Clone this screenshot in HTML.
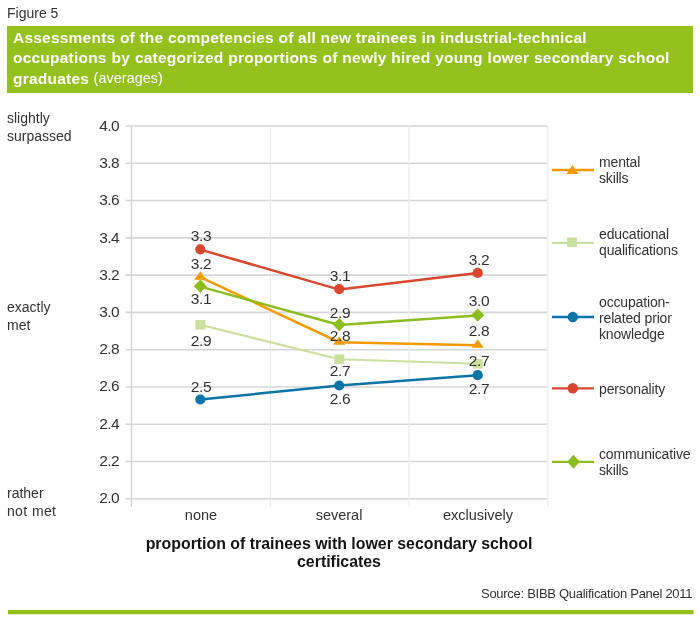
<!DOCTYPE html>
<html><head><meta charset="utf-8">
<style>
html,body{margin:0;padding:0;background:#fff;}
.t,.yl,.dl,.lg,.xl,.title,.xt{will-change:transform;}
body{width:700px;height:622px;position:relative;overflow:hidden;font-family:"Liberation Sans",sans-serif;color:#333;}
.t{position:absolute;white-space:nowrap;line-height:1;}
.r{font-size:14px;}
.banner{position:absolute;left:7px;top:26px;width:686px;height:67px;background:#95c11f;}
.title{position:absolute;left:12.5px;color:#fff;font-weight:bold;font-size:15.5px;letter-spacing:0.22px;line-height:20px;white-space:nowrap;}
.title span{font-weight:normal;}
svg{position:absolute;left:0;top:0;}
.yl{position:absolute;width:40px;text-align:right;font-size:15.5px;letter-spacing:-0.6px;line-height:1;}
.dl{position:absolute;width:40px;text-align:center;font-size:15.5px;letter-spacing:-0.4px;line-height:1;}
.xl{position:absolute;width:100px;text-align:center;font-size:14.5px;line-height:1;white-space:nowrap;}
.lg{position:absolute;left:599px;font-size:14px;letter-spacing:-0.15px;line-height:16px;white-space:nowrap;}
</style></head>
<body>
<div class="t r" style="left:7px;top:6px;font-size:14px;">Figure 5</div>
<div class="banner"></div>
<div class="title" style="top:27.6px;">Assessments of the competencies of all new trainees in industrial-technical</div>
<div class="title" style="top:48.4px;word-spacing:0.3px;">occupations by categorized proportions of newly hired young lower secondary school</div>
<div class="title" style="top:68.6px;">graduates <span style="font-size:14.3px;letter-spacing:0.1px;position:relative;top:-0.6px;">(averages)</span></div>

<svg width="700" height="622" viewBox="0 0 700 622">
  <!-- grid -->
  <g stroke="#d6d6d6" stroke-width="1.6">
    <line x1="125.5" y1="126.00" x2="547.5" y2="126.00"/>
    <line x1="125.5" y1="163.28" x2="547.5" y2="163.28"/>
    <line x1="125.5" y1="200.56" x2="547.5" y2="200.56"/>
    <line x1="125.5" y1="237.84" x2="547.5" y2="237.84"/>
    <line x1="125.5" y1="275.12" x2="547.5" y2="275.12"/>
    <line x1="125.5" y1="312.40" x2="547.5" y2="312.40"/>
    <line x1="125.5" y1="349.68" x2="547.5" y2="349.68"/>
    <line x1="125.5" y1="386.96" x2="547.5" y2="386.96"/>
    <line x1="125.5" y1="424.24" x2="547.5" y2="424.24"/>
    <line x1="125.5" y1="461.52" x2="547.5" y2="461.52"/>
    <line x1="125.5" y1="498.80" x2="547.5" y2="498.80"/>
  </g>
  <g stroke="#ebebeb" stroke-width="1.2">
    <line x1="270.4" y1="126" x2="270.4" y2="507"/>
    <line x1="409" y1="126" x2="409" y2="507"/>
    <line x1="547.8" y1="126" x2="547.8" y2="507"/>
  </g>
  <line x1="131.5" y1="126" x2="131.5" y2="507" stroke="#d4d4d4" stroke-width="1.4"/>

  <!-- series: educational -->
<polyline points="200.3,324.8 339.2,359.3 477.7,363.8" fill="none" stroke="#cce09d" stroke-width="2.1"/>
<rect x="195.3" y="320.0" width="10" height="9.6" fill="#cce09d"/>
<rect x="334.2" y="354.5" width="10" height="9.6" fill="#cce09d"/>
<rect x="472.7" y="359.0" width="10" height="9.6" fill="#cce09d"/>
<polyline points="200.3,399.5 339.2,385.5 477.7,375.2" fill="none" stroke="#0a74a6" stroke-width="2.5"/>
<circle cx="200.3" cy="399.5" r="5.1" fill="#0a74a6"/>
<circle cx="339.2" cy="385.5" r="5.1" fill="#0a74a6"/>
<circle cx="477.7" cy="375.2" r="5.1" fill="#0a74a6"/>
<polyline points="200.3,277.1 339.2,342.2 477.7,345.2" fill="none" stroke="#f39a00" stroke-width="2.5"/>
<polygon points="194.2,279.8 200.3,271.4 206.4,279.8" fill="#f39a00"/>
<polygon points="333.1,344.7 339.2,336.3 345.3,344.7" fill="#f39a00"/>
<polygon points="471.6,347.7 477.7,339.3 483.8,347.7" fill="#f39a00"/>
<polyline points="200.3,286.6 339.2,325 477.7,315.4" fill="none" stroke="#8cbd1e" stroke-width="2.5"/>
<polygon points="193.8,286.2 200.3,279.6 206.8,286.2 200.3,292.8" fill="#8cbd1e"/>
<polygon points="332.7,324.6 339.2,318.0 345.7,324.6 339.2,331.2" fill="#8cbd1e"/>
<polygon points="471.2,315.1 477.7,308.5 484.2,315.1 477.7,321.7" fill="#8cbd1e"/>
<polyline points="200.3,249.6 339.2,289.6 477.7,273" fill="none" stroke="#d9462e" stroke-width="2.5"/>
<circle cx="200.3" cy="249.3" r="5.1" fill="#d9462e"/>
<circle cx="339.2" cy="289.1" r="5.1" fill="#d9462e"/>
<circle cx="477.7" cy="272.9" r="5.1" fill="#d9462e"/>

  <!-- legend -->
  <line x1="552" y1="170" x2="594" y2="170" stroke="#f39a00" stroke-width="2.3"/>
  <polygon points="566.4,174 572.5,165 578.6,174" fill="#f39a00"/>
  <line x1="552" y1="242.9" x2="594" y2="242.9" stroke="#cce09d" stroke-width="2.1"/>
  <rect x="567.1" y="237.5" width="9.8" height="9.6" fill="#cce09d"/>
  <line x1="552" y1="317" x2="594" y2="317" stroke="#0a74a6" stroke-width="2.3"/>
  <circle cx="572.8" cy="317" r="5.2" fill="#0a74a6"/>
  <line x1="552" y1="388.3" x2="594" y2="388.3" stroke="#d9462e" stroke-width="2.3"/>
  <circle cx="572.8" cy="388.3" r="5.2" fill="#d9462e"/>
  <line x1="552" y1="461.8" x2="594" y2="461.8" stroke="#8cbd1e" stroke-width="2.3"/>
  <polygon points="567.2,461.7 573.5,454.7 579.8,461.7 573.5,468.7" fill="#8cbd1e"/>

  <!-- bottom green rule -->
  <rect x="8" y="610" width="685.5" height="4.3" fill="#95c11f"/>
</svg>

<!-- y axis labels -->
<div class="yl" style="left:79px;top:118.0px;">4.0</div>
<div class="yl" style="left:79px;top:155.2px;">3.8</div>
<div class="yl" style="left:79px;top:192.4px;">3.6</div>
<div class="yl" style="left:79px;top:229.6px;">3.4</div>
<div class="yl" style="left:79px;top:266.8px;">3.2</div>
<div class="yl" style="left:79px;top:303.9px;">3.0</div>
<div class="yl" style="left:79px;top:341.1px;">2.8</div>
<div class="yl" style="left:79px;top:378.3px;">2.6</div>
<div class="yl" style="left:79px;top:415.5px;">2.4</div>
<div class="yl" style="left:79px;top:452.7px;">2.2</div>
<div class="yl" style="left:79px;top:489.9px;">2.0</div>

<!-- left qualitative labels -->
<div class="t r" style="left:7px;top:110.3px;line-height:17.5px;">slightly<br>surpassed</div>
<div class="t r" style="left:7px;top:298.8px;line-height:17.5px;">exactly<br>met</div>
<div class="t r" style="left:7px;top:484.3px;line-height:18px;">rather<br><span style="letter-spacing:0.3px;word-spacing:0.5px;">not met</span></div>

<!-- data labels -->
<div class="dl" style="left:180.6px;top:227.5px;">3.3</div>
<div class="dl" style="left:180.6px;top:255.9px;">3.2</div>
<div class="dl" style="left:180.6px;top:291.4px;">3.1</div>
<div class="dl" style="left:180.6px;top:332.7px;">2.9</div>
<div class="dl" style="left:180.6px;top:378.7px;">2.5</div>

<div class="dl" style="left:319.5px;top:267.5px;">3.1</div>
<div class="dl" style="left:319.5px;top:305.0px;">2.9</div>
<div class="dl" style="left:319.5px;top:327.9px;">2.8</div>
<div class="dl" style="left:319.5px;top:363.1px;">2.7</div>
<div class="dl" style="left:319.5px;top:391.3px;">2.6</div>

<div class="dl" style="left:458.6px;top:251.5px;">3.2</div>
<div class="dl" style="left:458.6px;top:292.6px;">3.0</div>
<div class="dl" style="left:458.6px;top:323.4px;">2.8</div>
<div class="dl" style="left:458.6px;top:353.1px;">2.7</div>
<div class="dl" style="left:458.6px;top:380.6px;">2.7</div>

<!-- x labels -->
<div class="xl" style="left:151.1px;top:508px;">none</div>
<div class="xl" style="left:289.4px;top:508px;">several</div>
<div class="xl" style="left:428.3px;top:508px;">exclusively</div>

<!-- x title -->
<div class="xt" style="position:absolute;left:139.4px;top:535.4px;width:400px;text-align:center;font-weight:bold;font-size:15.9px;line-height:17.8px;color:#141414;">proportion of trainees with lower secondary school<br>certificates</div>

<!-- legend text -->
<div class="lg" style="top:154px;">mental<br>skills</div>
<div class="lg" style="top:226px;">educational<br>qualifications</div>
<div class="lg" style="top:293.9px;">occupation-<br>related prior<br>knowledge</div>
<div class="lg" style="top:380.7px;">personality</div>
<div class="lg" style="top:445.7px;">communicative<br>skills</div>

<!-- source -->
<div class="t" style="left:481px;top:587px;font-size:13px;letter-spacing:-0.28px;">Source: BIBB Qualification Panel 2011</div>
</body></html>
